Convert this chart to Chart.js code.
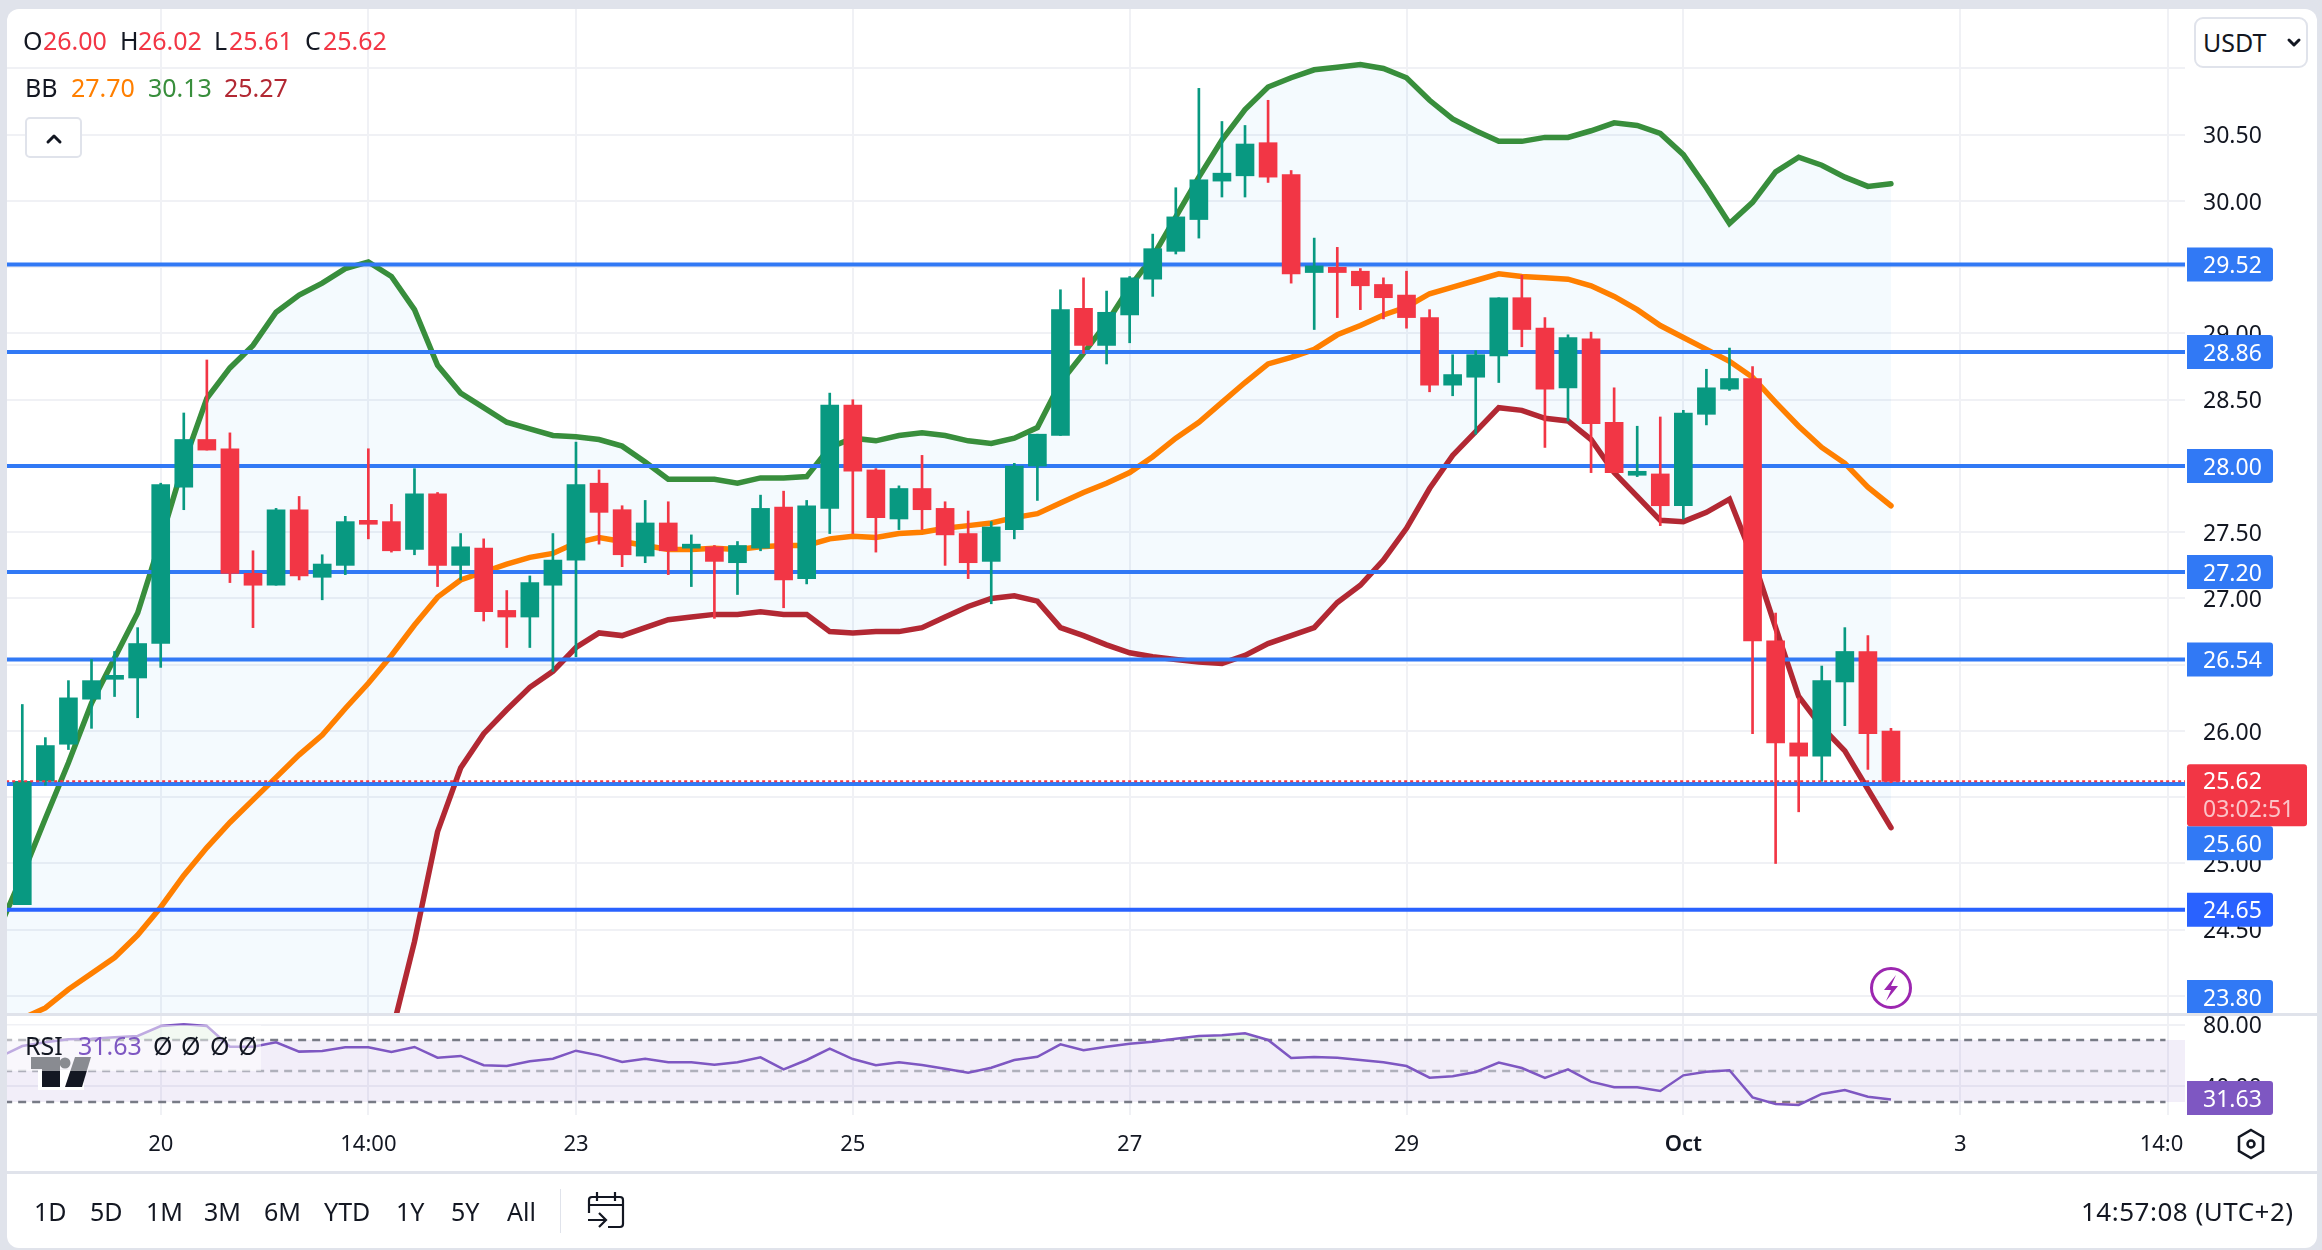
<!DOCTYPE html>
<html>
<head>
<meta charset="utf-8">
<title>USDT chart</title>
<script src="https://cdn.jsdelivr.net/npm/chart.js@4/dist/chart.umd.js"></script>
<style>
  html, body { margin: 0; padding: 0; width: 2322px; height: 1250px; overflow: hidden; background: #e0e3eb; font-family: "Noto Sans", sans-serif; color: #131722; }
  #card { position: absolute; left: 7px; top: 9px; width: 2310px; height: 1239px; background: #fff; border-radius: 12px; overflow: hidden; }
  canvas { position: absolute; display: block; }
  .txt { position: absolute; white-space: nowrap; font-size: 25px; line-height: 30px; transform: translateY(-16px); }
  svg { position: absolute; overflow: visible; }
</style>
</head>
<body>
<div id="card"></div>
<canvas id="priceChart" width="2310" height="1005" style="left:7px;top:9px"></canvas>
<canvas id="rsiChart" width="2310" height="157" style="left:7px;top:1015px"></canvas>
<div id="overlay"></div>
<script>
// candles, one 4h bar per slot
const opens = [24.69,25.62,25.90,26.24,26.39,26.40,26.66,27.84,28.20,28.13,27.19,27.10,27.67,27.16,27.25,27.59,27.58,27.37,27.79,27.25,27.38,26.91,26.86,27.10,27.29,27.87,27.67,27.32,27.57,27.38,27.39,27.27,27.38,27.69,27.15,27.68,28.46,27.97,27.60,27.83,27.68,27.49,27.28,27.52,28.00,28.23,29.19,28.91,29.14,29.41,29.62,29.86,30.15,30.19,30.44,30.20,29.46,29.50,29.47,29.37,29.29,29.12,28.61,28.67,28.83,29.27,29.04,28.59,28.96,28.33,27.93,27.94,27.70,28.39,28.58,28.66,26.68,25.91,25.81,26.37,26.60,26.00];
const highs = [26.20,25.95,26.38,26.54,26.60,26.78,27.87,28.40,28.80,28.25,27.36,27.68,27.77,27.33,27.62,28.13,27.71,27.98,27.80,27.49,27.45,27.06,27.17,27.49,28.18,27.97,27.70,27.74,27.73,27.48,27.40,27.43,27.78,27.81,27.74,28.55,28.50,27.98,27.85,28.08,27.73,27.66,27.58,28.02,28.24,29.33,29.42,29.32,29.43,29.75,30.10,30.85,30.60,30.57,30.76,30.23,29.72,29.65,29.49,29.42,29.47,29.18,28.84,28.87,29.27,29.44,29.12,28.99,29.01,28.59,28.30,28.37,28.42,28.73,28.89,28.75,26.89,26.25,26.49,26.78,26.72,26.02];
const lows = [24.69,25.59,25.86,26.02,26.26,26.10,26.48,27.67,28.12,27.12,26.78,27.10,27.14,26.99,27.18,27.45,27.35,27.33,27.09,27.14,26.83,26.63,26.63,26.45,26.56,27.41,27.24,27.27,27.18,27.09,26.85,27.03,27.36,26.93,27.11,27.49,27.49,27.35,27.52,27.52,27.25,27.15,26.96,27.45,27.74,28.23,28.85,28.77,28.93,29.28,29.60,29.72,30.03,30.03,30.14,29.38,29.03,29.12,29.18,29.11,29.04,28.56,28.53,28.24,28.63,28.90,28.14,28.34,27.95,27.95,27.92,27.55,27.60,28.31,28.57,25.98,25.00,25.39,25.62,26.04,25.71,25.61];
const closes = [25.62,25.89,26.25,26.38,26.42,26.66,27.86,28.20,28.12,27.19,27.10,27.67,27.17,27.26,27.58,27.56,27.36,27.79,27.25,27.39,26.90,26.86,27.12,27.29,27.86,27.65,27.33,27.57,27.36,27.41,27.28,27.40,27.68,27.14,27.70,28.46,27.96,27.61,27.83,27.67,27.48,27.27,27.54,28.00,28.24,29.18,28.91,29.16,29.42,29.64,29.88,30.16,30.21,30.43,30.18,29.45,29.51,29.46,29.36,29.27,29.12,28.61,28.69,28.84,29.27,29.03,28.58,28.97,28.32,27.95,27.96,27.70,28.40,28.59,28.66,26.68,25.91,25.81,26.38,26.60,25.98,25.62];

// Bollinger bands, first value sits one slot left of the first candle
const bbUpper = [24.51,24.91,25.34,25.76,26.21,26.55,26.89,27.44,28.02,28.51,28.74,28.91,29.16,29.29,29.38,29.49,29.54,29.43,29.18,28.76,28.55,28.44,28.33,28.28,28.23,28.22,28.20,28.15,28.03,27.90,27.90,27.90,27.87,27.91,27.91,27.92,28.14,28.21,28.19,28.23,28.25,28.23,28.19,28.17,28.21,28.29,28.63,28.85,29.08,29.35,29.58,29.88,30.18,30.46,30.69,30.86,30.93,30.99,31.01,31.03,31.00,30.93,30.76,30.62,30.53,30.45,30.45,30.48,30.48,30.53,30.59,30.57,30.51,30.35,30.10,29.83,29.99,30.22,30.33,30.27,30.18,30.11,30.13];
const bbBasis = [23.69,23.83,23.91,24.05,24.17,24.29,24.46,24.67,24.91,25.12,25.31,25.48,25.65,25.82,25.97,26.17,26.36,26.57,26.80,27.01,27.14,27.20,27.26,27.31,27.34,27.42,27.46,27.43,27.40,27.37,27.37,27.38,27.37,27.39,27.40,27.40,27.45,27.47,27.46,27.49,27.50,27.53,27.55,27.57,27.61,27.64,27.72,27.80,27.87,27.95,28.07,28.21,28.33,28.48,28.63,28.77,28.82,28.88,28.99,29.06,29.14,29.20,29.30,29.35,29.40,29.45,29.43,29.42,29.41,29.36,29.28,29.18,29.06,28.97,28.88,28.79,28.67,28.48,28.30,28.14,28.02,27.84,27.70];
const bbLower = [22.90,22.69,22.48,22.34,22.13,22.03,22.03,21.90,21.80,21.73,21.88,22.05,22.14,22.35,22.56,22.85,23.18,23.71,24.41,25.24,25.72,25.98,26.16,26.33,26.45,26.63,26.74,26.72,26.78,26.84,26.86,26.88,26.88,26.90,26.88,26.88,26.75,26.74,26.75,26.75,26.78,26.86,26.94,27.00,27.02,26.98,26.78,26.72,26.65,26.59,26.56,26.54,26.52,26.51,26.57,26.66,26.72,26.78,26.97,27.10,27.29,27.53,27.83,28.08,28.26,28.44,28.42,28.36,28.34,28.20,27.95,27.77,27.59,27.58,27.65,27.75,27.31,26.78,26.26,26.03,25.85,25.56,25.27];
const rsiValues = [59.0,66.1,68.5,70.5,70.8,71.7,72.6,79.0,80.1,79.0,65.7,65.7,68.5,62.5,62.9,65.3,65.3,62.3,65.5,58.6,59.7,53.7,53.2,56.3,57.9,63.1,60.1,55.8,57.9,55.6,55.6,54.1,55.6,58.8,51.1,57.1,64.4,57.7,53.7,55.6,53.9,51.5,48.9,52.1,57.1,59.2,67.2,63.4,65.7,67.6,68.9,70.8,72.6,73.0,74.3,70.0,58.4,59.0,58.6,57.1,55.6,53.2,45.7,46.6,49.4,55.4,51.9,45.5,51.1,43.1,39.5,39.5,37.1,47.2,49.5,50.5,33.0,28.7,28.1,35.2,37.7,33.4,31.63];

// horizontal levels and axis ticks
const levels = [29.52,28.86,28.00,27.20,26.54,25.60,24.65,23.80];
const lastPrice = 25.62;
const countdown = '03:02:51';
const priceTicks = [24,24.5,25,25.5,26,26.5,27,27.5,28,28.5,29,29.5,30,30.5,31];
const rsiTicks = [40,80];
const rsiGuides = [70,50,30];
const timeSlots = [6,15,24,36,48,60,72,84,93];
const timeLabels = ['20','14:00','23','25','27','29','Oct','3','14:00'];

const FONT = '"Noto Sans", sans-serif';
const UP = '#089981', DOWN = '#f23645', LEVEL = '#3179f5';
const AXIS_TEXT = '#131722';
const GRID = '#f0f1f5';
const BB_FILL = 'rgba(33,150,243,0.05)';
const RSI_FILL = 'rgba(126,87,194,0.1)';
const X_MIN = -0.663, X_MAX = 93.745;

Chart.defaults.font.family = FONT;
Chart.defaults.animation = false;
Chart.defaults.events = [];

const candleColor = (ctx) => closes[ctx.dataIndex] >= opens[ctx.dataIndex] ? UP : DOWN;

function lineData(values) {
  return values.map((y, i) => ({ x: i - 1, y }));
}
function spanData(value) {
  return [{ x: -2, y: value }, { x: 100, y: value }];
}
// tick labels may overhang: keep the plot area flush with the pane
function flushX(height) {
  return (s) => { s.height = height; s.paddingLeft = 0; s.paddingRight = 0; };
}
function flushY(s) {
  s.width = 132; s.paddingTop = 0; s.paddingBottom = 0;
}
function sharedX(extra) {
  return Object.assign({
    type: 'linear',
    min: X_MIN,
    max: X_MAX,
    offset: false,
    afterBuildTicks: (s) => { s.ticks = timeSlots.map((value) => ({ value })); },
    grid: { color: GRID, lineWidth: 2, offset: false, drawTicks: false },
    border: { display: false }
  }, extra);
}
function bandLine(label, values, color, order, extra) {
  return Object.assign({
    type: 'line', label, data: lineData(values), borderColor: color, borderWidth: 5.5,
    pointRadius: 0, tension: 0, order, fill: false, borderCapStyle: 'round'
  }, extra);
}

function tag(ctx, x, y, w, h, color, text) {
  ctx.fillStyle = color;
  ctx.beginPath();
  ctx.roundRect(x, y, w, h, [0, 3, 3, 0]);
  ctx.fill();
  ctx.fillStyle = '#fff';
  ctx.textAlign = 'left';
  ctx.textBaseline = 'middle';
  ctx.fillText(text, 2203 - 7, y + h / 2 + 2);
}

const priceTags = {
  id: 'priceTags',
  afterDraw(chart) {
    const { ctx, scales: { y }, chartArea } = chart;
    ctx.save();
    ctx.font = '23px ' + FONT;
    const boxX = 2187 - 7;
    const lastTop = y.getPixelForValue(lastPrice) - 17;
    levels.forEach((lvl) => {
      let top = y.getPixelForValue(lvl) - 17;
      if (lvl === 25.60) top = lastTop + 62;           // pushed under the last price tag
      top = Math.min(top, chartArea.bottom - 34);      // off-pane levels stick to the edge
      tag(ctx, boxX, top, 86, 34, lvl === 24.65 ? '#2962ff' : LEVEL, lvl.toFixed(2));
    });
    ctx.fillStyle = DOWN;
    ctx.beginPath();
    ctx.roundRect(boxX, lastTop, 120, 62, 3);
    ctx.fill();
    ctx.fillStyle = '#fff';
    ctx.textBaseline = 'middle';
    ctx.fillText(lastPrice.toFixed(2), 2203 - 7, lastTop + 18);
    ctx.fillStyle = 'rgba(255,255,255,0.7)';
    ctx.fillText(countdown, 2203 - 7, lastTop + 46);
    ctx.restore();
  }
};

const rsiTag = {
  id: 'rsiTag',
  afterDraw(chart) {
    const { ctx, scales: { y }, chartArea } = chart;
    const v = rsiValues[rsiValues.length - 1];
    ctx.save();
    ctx.font = '23px ' + FONT;
    const top = Math.min(y.getPixelForValue(v) - 17, chartArea.bottom - 34);
    tag(ctx, 2187 - 7, top, 86, 34, '#7e57c2', v.toFixed(2));
    ctx.restore();
  }
};

const levelSets = levels.map((lvl) => ({
  type: 'line', label: 'level ' + lvl, data: spanData(lvl), borderColor: lvl === 24.65 ? '#2962ff' : LEVEL,
  borderWidth: 4, pointRadius: 0, order: 3
}));
const candleSets = [
  {
    type: 'line', label: 'last', data: spanData(lastPrice), borderColor: DOWN, borderWidth: 2,
    borderDash: [3, 3], pointRadius: 0, order: 0
  },
  {
    label: 'body', data: opens.map((o, i) => ({ x: i, y: [o, closes[i]] })),
    backgroundColor: candleColor, barThickness: 18, order: 1, grouped: false, borderWidth: 0
  },
  {
    label: 'wick', data: lows.map((l, i) => ({ x: i, y: [l, highs[i]] })),
    backgroundColor: candleColor, barThickness: 2, order: 2, grouped: false, borderWidth: 0
  }
];
const lowerIndex = candleSets.length + levelSets.length + 2;

new Chart(document.getElementById('priceChart'), {
  type: 'bar',
  data: {
    datasets: [
      ...candleSets,
      ...levelSets,
      bandLine('BB upper', bbUpper, '#388e3c', 6, { fill: { target: lowerIndex, above: BB_FILL, below: BB_FILL } }),
      bandLine('BB basis', bbBasis, '#ff7f00', 4),
      bandLine('BB lower', bbLower, '#b22833', 5)
    ]
  },
  options: {
    responsive: false,
    maintainAspectRatio: false,
    layout: { padding: 0 },
    plugins: { legend: { display: false }, tooltip: { enabled: false } },
    scales: {
      x: sharedX({ ticks: { display: false }, afterFit: flushX(0) }),
      y: {
        position: 'right',
        min: 23.864,
        max: 31.449,
        afterFit: flushY,
        afterBuildTicks: (s) => { s.ticks = priceTicks.map((value) => ({ value })); },
        grid: { color: GRID, lineWidth: 2, drawTicks: false },
        border: { display: false },
        ticks: {
          autoSkip: false,
          padding: 18,
          labelOffset: 2,
          color: AXIS_TEXT,
          font: { size: 23 },
          callback: (v) => v === 31 ? '' : v.toFixed(2)
        }
      }
    }
  },
  plugins: [priceTags]
});

new Chart(document.getElementById('rsiChart'), {
  type: 'line',
  data: {
    datasets: [
      {
        label: 'RSI', data: lineData(rsiValues), borderColor: '#7e57c2', borderWidth: 2.5, pointRadius: 0, tension: 0, order: 0,
        fill: { target: { value: 70 }, above: 'rgba(76,175,80,0.15)', below: 'rgba(0,0,0,0)' }
      },
      {
        label: 'RSI low', data: lineData(rsiValues), borderWidth: 0, pointRadius: 0, tension: 0, order: 1,
        fill: { target: { value: 30 }, above: 'rgba(0,0,0,0)', below: 'rgba(255,82,82,0.15)' }
      },
      ...rsiGuides.map((g) => ({
        label: 'guide ' + g, data: [{ x: -2, y: g }, { x: 92.9, y: g }],
        borderColor: g === 50 ? 'rgba(120,123,134,0.55)' : '#787b86', borderWidth: 2.5, borderDash: [8, 6], pointRadius: 0, order: 2
      })),
      {
        label: 'RSI band', data: spanData(rsiGuides[0]), borderWidth: 0, pointRadius: 0, order: 3,
        fill: { target: { value: rsiGuides[2] }, above: RSI_FILL, below: RSI_FILL }
      }
    ]
  },
  options: {
    responsive: false,
    maintainAspectRatio: false,
    layout: { padding: 0 },
    plugins: { legend: { display: false }, tooltip: { enabled: false } },
    scales: {
      x: sharedX({
        afterFit: flushX(57),
        ticks: {
          autoSkip: false,
          maxRotation: 0,
          padding: 17,
          color: AXIS_TEXT,
          font: (ctx) => ({ size: 22, weight: ctx.tick && ctx.tick.label === 'Oct' ? '600' : '400' }),
          callback: (v) => timeLabels[timeSlots.indexOf(v)]
        }
      }),
      y: {
        position: 'right',
        min: 21.61,
        max: 86.13,
        afterFit: flushY,
        afterBuildTicks: (s) => { s.ticks = rsiTicks.map((value) => ({ value })); },
        grid: { color: GRID, lineWidth: 2, drawTicks: false },
        border: { display: false },
        ticks: { autoSkip: false, padding: 18, labelOffset: 2, color: AXIS_TEXT, font: { size: 23 }, callback: (v) => v.toFixed(2) }
      }
    }
  },
  plugins: [rsiTag]
});

// page furniture around the panes: legends, buttons, icons
const overlay = document.getElementById('overlay');
function text(x, y, str, color, css) {
  const el = document.createElement('div');
  el.className = 'txt';
  el.style.left = x + 'px';
  el.style.top = y + 'px';
  if (color) el.style.color = color;
  if (css) el.style.cssText += css;
  el.textContent = str;
  overlay.appendChild(el);
}
function box(css) {
  const el = document.createElement('div');
  el.style.cssText = 'position:absolute;' + css;
  overlay.appendChild(el);
}

const o = opens[opens.length - 1], h = highs[highs.length - 1], l = lows[lows.length - 1], c = closes[closes.length - 1];
[[23, 'O'], [120, 'H'], [214, 'L'], [305, 'C']].forEach(([x, s]) => text(x, 41, s));
[[43, o], [138, h], [229, l], [323, c]].forEach(([x, v]) => text(x, 41, v.toFixed(2), DOWN));
text(25, 88, 'BB');
text(71, 88, bbBasis[bbBasis.length - 1].toFixed(2), '#ff7f00');
text(148, 88, bbUpper[bbUpper.length - 1].toFixed(2), '#388e3c');
text(224, 88, bbLower[bbLower.length - 1].toFixed(2), '#b22833');

box('left:25px;top:117px;width:57px;height:41px;border:2px solid #e0e3eb;border-radius:5px;box-sizing:border-box;background:#fff');
box('left:2194px;top:17px;width:114px;height:51px;border:2px solid #e0e3eb;border-radius:9px;box-sizing:border-box;background:#fff');
text(2203, 43, 'USDT');

// pane and footer separators
box('left:7px;top:1013px;width:2310px;height:3px;background:#e0e3eb');
box('left:7px;top:1171px;width:2310px;height:3px;background:#e0e3eb');

// RSI logo + dimmed legend strip
overlay.insertAdjacentHTML('beforeend', `
<svg style="left:0;top:0" width="2322" height="1250" viewBox="0 0 2322 1250">
  <rect x="38" y="1070" width="46" height="20" fill="#fff"/>
  <path d="M31 1057H60V1087H42V1069H31Z" fill="#131722"/>
  <circle cx="65" cy="1063" r="5.5" fill="#131722"/>
  <path d="M75 1057H91L82 1087H65Z" fill="#131722"/>
  <path d="M48 130l6-6 6 6" transform="translate(0,12)" fill="none" stroke="#131722" stroke-width="3" stroke-linecap="round" stroke-linejoin="round"/>
  <path d="M2289 40l5 5 5-5" fill="none" stroke="#131722" stroke-width="3" stroke-linecap="round" stroke-linejoin="round"/>
  <circle cx="1891" cy="988" r="19.5" fill="#fff" stroke="#9c27b0" stroke-width="3"/>
  <path d="M1896 975l-12 15h7l-5 11 12-15h-7z" fill="#9c27b0"/>
  <path d="M2251 1130l12 7v14l-12 7-12-7v-14z" fill="none" stroke="#131722" stroke-width="2.5"/>
  <circle cx="2251" cy="1144" r="3.5" fill="none" stroke="#131722" stroke-width="2.5"/>
  <rect x="560" y="1189" width="1" height="44" fill="#e0e3eb"/>
  <path d="M589 1213V1200a3 3 0 0 1 3-3h28a3 3 0 0 1 3 3v24a3 3 0 0 1-3 3h-12M589 1205h34M597 1192v9M615 1192v9M588 1220h17M599 1213l7 7-7 7" fill="none" stroke="#131722" stroke-width="2.2"/>
</svg>`);
box('left:7px;top:1025px;width:254px;height:46px;background:rgba(255,255,255,0.5)');
text(25, 1046, 'RSI');
text(78, 1046, rsiValues[rsiValues.length - 1].toFixed(2), '#7e57c2');
[160, 188, 217, 245].forEach((x) => text(x - 7, 1046, 'Ø'));

// cover the clipped end of the last time label
box('left:2183px;top:1118px;width:40px;height:52px;background:#fff');

const ranges = [['1D', 34], ['5D', 90], ['1M', 146], ['3M', 204], ['6M', 264], ['YTD', 324], ['1Y', 396], ['5Y', 451], ['All', 507]];
ranges.forEach(([s, x]) => text(x, 1212, s));
text(2081, 1212, '14:57:08 (UTC+2)', null, 'font-size:26px;letter-spacing:0.5px');
</script>
</body>
</html>
